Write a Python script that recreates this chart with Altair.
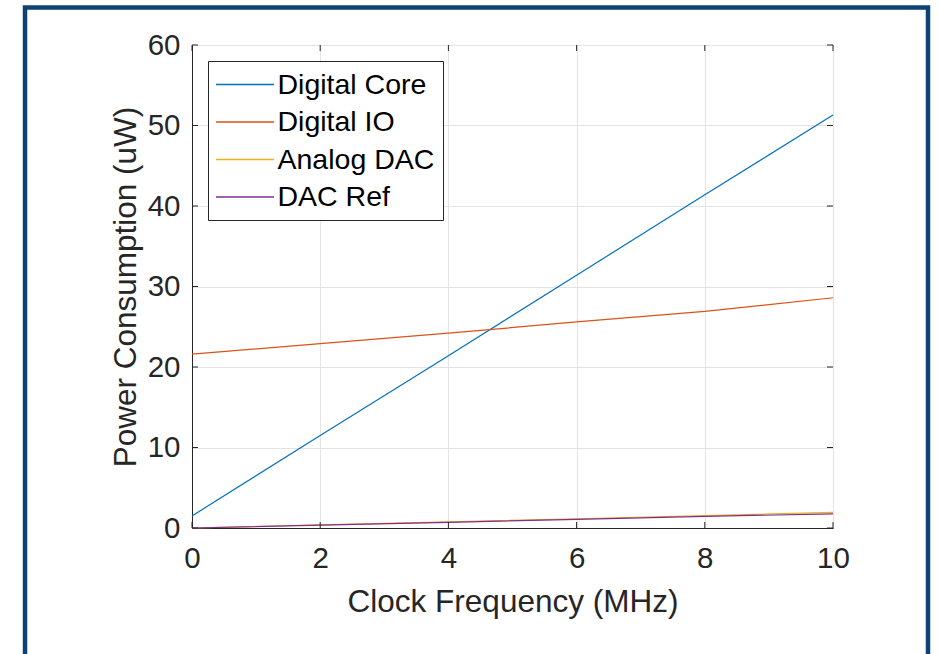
import altair as alt
import pandas as pd

freq = [0, 2, 4, 6, 8, 10]
digital_core = [1.5, 11.5, 21.4, 31.4, 41.4, 51.3]
digital_io = [21.6, 22.9, 24.2, 25.6, 26.9, 28.6]
analog_dac = [0.0, 0.38, 0.76, 1.15, 1.53, 1.95]
dac_ref = [0.0, 0.35, 0.70, 1.08, 1.45, 1.75]

series_names = ["Digital Core", "Digital IO", "Analog DAC", "DAC Ref"]
series_colors = ["#0072BD", "#D95319", "#EDB120", "#7E2F8E"]
x_ticks = [0, 2, 4, 6, 8, 10]
y_ticks = [0, 10, 20, 30, 40, 50, 60]

W, H = 641, 483
FONT = "Liberation Sans"
TXT = "#262626"

rows = []
for name, vals in zip(series_names, [digital_core, digital_io, analog_dac, dac_ref]):
    for f, v in zip(freq, vals):
        rows.append({"freq": f, "power": v, "series": name})
df = pd.DataFrame(rows)

xscale = alt.Scale(domain=[0, 10], nice=False, zero=False)
yscale = alt.Scale(domain=[0, 60], nice=False, zero=False)

axis_common = dict(tickSize=0, grid=True, gridColor="#e3e3e3", domainColor=TXT,
                   labelFont=FONT, titleFont=FONT, labelFontSize=29.5, titleFontSize=31.5,
                   labelColor=TXT, titleColor=TXT, titleFontWeight="normal", format="d",
                   labelFlush=False)

lines = alt.Chart(df).mark_line(strokeWidth=1.2).encode(
    x=alt.X("freq:Q", scale=xscale,
            axis=alt.Axis(title="Clock Frequency (MHz)", values=x_ticks,
                          labelPadding=16, titlePadding=14, **axis_common)),
    y=alt.Y("power:Q", scale=yscale,
            axis=alt.Axis(title="Power Consumption (uW)", values=y_ticks,
                          labelPadding=12, titlePadding=5, **axis_common)),
    color=alt.Color("series:N",
                    scale=alt.Scale(domain=series_names, range=series_colors),
                    legend=alt.Legend(title=None, orient="none", legendX=16, legendY=16,
                                      symbolType="M-2,0L2,0", symbolSize=841,
                                      symbolStrokeWidth=1.5, symbolOffset=13.5,
                                      labelFontSize=28.5,
                                      labelFont=FONT, labelColor="#000000",
                                      strokeColor=TXT, fillColor="white",
                                      padding=8, rowPadding=7.5, labelOffset=17,
                                      labelLimit=400)),
    order=alt.Order("freq:Q"),
)

xt = pd.DataFrame({"t": x_ticks})
yt = pd.DataFrame({"t": y_ticks})
xtick_bottom = alt.Chart(xt).mark_rule(color=TXT).encode(
    x=alt.X("t:Q", scale=xscale), y=alt.value(H), y2=alt.value(H - 6))
xtick_top = alt.Chart(xt).mark_rule(color=TXT).encode(
    x=alt.X("t:Q", scale=xscale), y=alt.value(0), y2=alt.value(6))
ytick_left = alt.Chart(yt).mark_rule(color=TXT).encode(
    y=alt.Y("t:Q", scale=yscale), x=alt.value(0), x2=alt.value(6))
ytick_right = alt.Chart(yt).mark_rule(color=TXT).encode(
    y=alt.Y("t:Q", scale=yscale), x=alt.value(W), x2=alt.value(W - 6))

frame = alt.Chart(pd.DataFrame({"a": [0]})).mark_rect(
    fill=None, stroke="#0C4374", strokeWidth=4.5, clip=False).encode(
    x=alt.value(-167), x2=alt.value(736), y=alt.value(-37.5), y2=alt.value(640))

chart = alt.layer(frame, lines, xtick_bottom, xtick_top, ytick_left, ytick_right).properties(
    width=W, height=H,
    autosize=alt.AutoSizeParams(type="none"),
    padding={"left": 192, "top": 45, "right": 107, "bottom": 126},
    background="white",
).configure_view(stroke=TXT, strokeWidth=1)

chart.save("out.html", embed_options={"renderer": "svg", "actions": False})
